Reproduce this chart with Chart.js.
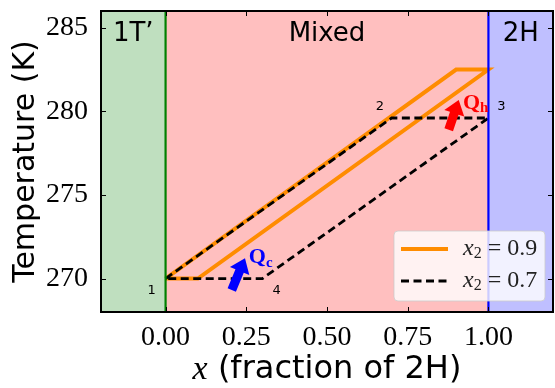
<!DOCTYPE html>
<html>
<head>
<meta charset="utf-8">
<script src="https://cdn.jsdelivr.net/npm/chart.js@4"></script>
<style>
html, body { margin: 0; padding: 0; background: #fff; }
</style>
</head>
<body>
<canvas id="myChart" width="555" height="388"></canvas>
<script>
// tick labels
const xTicks = [0, 0.25, 0.5, 0.75, 1.0];
const yTicks = [270, 275, 280, 285];

// cycle x2 = 0.9 (solid orange)
const cycle09X = [0, 0.9, 1.0, 0.1, 0];
const cycle09Y = [270, 282.5, 282.5, 270, 270];
// cycle x2 = 0.7 (dashed black)
const cycle07X = [0, 0.7, 1.0, 0.3, 0];
const cycle07Y = [270, 279.6, 279.6, 270, 270];

// phase regions
const phaseNames = ["1T\u2019", "Mixed", "2H"];
const phaseEdges = [-0.2, 0, 1, 1.2];
const phaseFill = ['rgb(191,223,191)', 'rgb(255,191,191)', 'rgb(191,191,255)'];

// corner numbers of the cycle
const cornerNames = ['1', '2', '3', '4'];
const cornerX = [-0.043, 0.664, 1.04, 0.344];
const cornerY = [269.3, 280.3, 280.3, 269.3];

// heat arrows
const heatSub = ['c', 'h'];
const heatColor = ['#0000ff', '#ff0000'];
const arrowFromX = [0.205, 0.877];
const arrowFromY = [269.32, 278.9];
const arrowToX = [0.246, 0.908];
const arrowToY = [271.22, 280.68];
const heatLabelX = [0.258, 0.921];
const heatLabelY = [271.25, 280.5];

const legendLabels = ['0.9', '0.7'];

function toPoints(xs, ys) {
  return xs.map(function (x, i) { return {x: x, y: ys[i]}; });
}

function drawArrow(ctx, x0, y0, x1, y1, color) {
  var dx = x1 - x0, dy = y1 - y0;
  var len = Math.sqrt(dx * dx + dy * dy);
  var ux = dx / len, uy = dy / len;
  var nx = -uy, ny = ux;
  var hw = 4.5, headW = 10.5, headL = 14;
  var bx = x1 - ux * headL, by = y1 - uy * headL;
  ctx.save();
  ctx.fillStyle = color;
  ctx.beginPath();
  ctx.moveTo(x0 + nx * hw, y0 + ny * hw);
  ctx.lineTo(bx + nx * hw, by + ny * hw);
  ctx.lineTo(bx + nx * headW, by + ny * headW);
  ctx.lineTo(x1, y1);
  ctx.lineTo(bx - nx * headW, by - ny * headW);
  ctx.lineTo(bx - nx * hw, by - ny * hw);
  ctx.lineTo(x0 - nx * hw, y0 - ny * hw);
  ctx.closePath();
  ctx.fill();
  ctx.restore();
}

function drawX2(ctx, x, y, val) {
  ctx.textBaseline = 'middle';
  ctx.textAlign = 'left';
  ctx.fillStyle = '#222';
  ctx.font = 'italic 24px "Liberation Serif"';
  ctx.fillText('x', x, y);
  var w = ctx.measureText('x').width;
  ctx.font = '16px "Liberation Serif"';
  ctx.fillText('2', x + w, y + 5);
  var w2 = ctx.measureText('2').width;
  ctx.font = '24px "Liberation Serif"';
  ctx.fillText(' = ' + val, x + w + w2, y);
}

const decor = {
  id: 'decor',
  beforeDatasetsDraw(chart) {
    const ctx = chart.ctx, a = chart.chartArea;
    const xs = chart.scales.x;
    ctx.save();
    for (let i = 0; i < phaseNames.length; i++) {
      const l = Math.max(a.left, xs.getPixelForValue(phaseEdges[i]));
      const r = Math.min(a.right, xs.getPixelForValue(phaseEdges[i + 1]));
      ctx.fillStyle = phaseFill[i];
      ctx.fillRect(l, a.top, r - l, a.bottom - a.top);
      ctx.fillStyle = '#000';
      ctx.font = '26px "DejaVu Sans"';
      ctx.textAlign = 'center';
      ctx.textBaseline = 'middle';
      ctx.fillText(phaseNames[i], (l + r) / 2, a.top + 23);
    }
    ctx.restore();
  },
  afterDatasetsDraw(chart) {
    const ctx = chart.ctx, a = chart.chartArea;
    const xs = chart.scales.x, ys = chart.scales.y;
    ctx.save();
    // phase boundaries
    [[0, '#008000'], [1, '#0000ff']].forEach(function (b) {
      const px = xs.getPixelForValue(b[0]);
      ctx.strokeStyle = b[1];
      ctx.lineWidth = 2.2;
      ctx.beginPath();
      ctx.moveTo(px, a.top);
      ctx.lineTo(px, a.bottom);
      ctx.stroke();
    });
    // corner numbers
    ctx.fillStyle = '#000';
    ctx.font = '13px "DejaVu Sans"';
    ctx.textAlign = 'center';
    ctx.textBaseline = 'middle';
    cornerNames.forEach(function (n, i) {
      ctx.fillText(n, xs.getPixelForValue(cornerX[i]), ys.getPixelForValue(cornerY[i]));
    });
    // heat arrows and labels
    heatSub.forEach(function (s, i) {
      drawArrow(ctx, xs.getPixelForValue(arrowFromX[i]), ys.getPixelForValue(arrowFromY[i]),
        xs.getPixelForValue(arrowToX[i]), ys.getPixelForValue(arrowToY[i]), heatColor[i]);
      const lx = xs.getPixelForValue(heatLabelX[i]), ly = ys.getPixelForValue(heatLabelY[i]);
      ctx.fillStyle = heatColor[i];
      ctx.textAlign = 'left';
      ctx.font = 'bold 22px "Liberation Serif"';
      ctx.fillText('Q', lx, ly);
      const w = ctx.measureText('Q').width;
      ctx.font = 'bold 15px "Liberation Serif"';
      ctx.fillText(s, lx + w, ly + 5);
    });
    // legend
    const lw = 151, lh = 70;
    const lx = a.right - lw - 8, ly = a.bottom - lh - 11;
    ctx.beginPath();
    ctx.roundRect(lx, ly, lw, lh, 4);
    ctx.fillStyle = 'rgba(255,255,255,0.8)';
    ctx.fill();
    ctx.strokeStyle = 'rgba(204,204,204,0.8)';
    ctx.lineWidth = 1;
    ctx.stroke();
    chart.data.datasets.slice().sort(function (p, q) { return q.order - p.order; }).forEach(function (ds, i) {
      const yy = ly + 18 + i * 32;
      ctx.strokeStyle = ds.borderColor;
      ctx.lineWidth = ds.borderWidth;
      ctx.setLineDash(ds.borderDash || []);
      ctx.beginPath();
      ctx.moveTo(lx + 7, yy);
      ctx.lineTo(lx + 54, yy);
      ctx.stroke();
      ctx.setLineDash([]);
      drawX2(ctx, lx + 69, yy, legendLabels[i]);
    });
    // frame and inward ticks
    ctx.strokeStyle = '#000';
    ctx.lineWidth = 1;
    xTicks.forEach(function (v) {
      const px = Math.round(xs.getPixelForValue(v)) + 0.5;
      ctx.beginPath();
      ctx.moveTo(px, a.bottom); ctx.lineTo(px, a.bottom - 5);
      ctx.moveTo(px, a.top); ctx.lineTo(px, a.top + 5);
      ctx.stroke();
    });
    yTicks.forEach(function (v) {
      const py = Math.round(ys.getPixelForValue(v)) + 0.5;
      ctx.beginPath();
      ctx.moveTo(a.left, py); ctx.lineTo(a.left + 5, py);
      ctx.moveTo(a.right, py); ctx.lineTo(a.right - 5, py);
      ctx.stroke();
    });
    ctx.lineWidth = 2;
    ctx.strokeRect(a.left, a.top, a.right - a.left, a.bottom - a.top);
    // x axis title
    const cx = (a.left + a.right) / 2, ty = a.bottom + 58;
    ctx.fillStyle = '#000';
    ctx.textBaseline = 'middle';
    ctx.font = 'italic 34px "Liberation Serif"';
    const wx = ctx.measureText('x').width;
    ctx.font = '32px "DejaVu Sans"';
    const wr = ctx.measureText(' (fraction of 2H)').width;
    const x0 = cx - (wx + wr) / 2;
    ctx.textAlign = 'left';
    ctx.font = 'italic 34px "Liberation Serif"';
    ctx.fillText('x', x0, ty);
    ctx.font = '32px "DejaVu Sans"';
    ctx.fillText(' (fraction of 2H)', x0 + wx, ty);
    ctx.restore();
  }
};

var ctx = document.getElementById('myChart').getContext('2d');
var myChart = new Chart(ctx, {
  type: 'scatter',
  data: {
    datasets: [{
      label: 'x2 = 0.9',
      data: toPoints(cycle09X, cycle09Y),
      showLine: true,
      borderColor: '#ff8c00',
      borderWidth: 4,
      pointRadius: 0,
      fill: false,
      order: 1
    }, {
      label: 'x2 = 0.7',
      data: toPoints(cycle07X, cycle07Y),
      showLine: true,
      borderColor: '#000000',
      borderWidth: 2.8,
      borderDash: [8, 4.5],
      pointRadius: 0,
      fill: false,
      order: 0
    }]
  },
  options: {
    responsive: false,
    animation: false,
    layout: { padding: { top: 11, right: 2, left: 0, bottom: 0 } },
    plugins: { legend: { display: false }, tooltip: { enabled: false } },
    scales: {
      x: {
        type: 'linear',
        min: -0.2,
        max: 1.2,
        grid: { display: false },
        border: { display: false },
        afterBuildTicks: function (axis) { axis.ticks = xTicks.map(function (v) { return {value: v}; }); },
        afterFit: function (axis) { axis.height = 76; axis.paddingLeft = 0; axis.paddingRight = 0; },
        ticks: {
          padding: 1,
          maxRotation: 0,
          color: '#000',
          font: { family: '"Liberation Serif"', size: 28 },
          callback: function (v) { return Number(v).toFixed(2); }
        }
      },
      y: {
        type: 'linear',
        min: 268,
        max: 286,
        grid: { display: false },
        border: { display: false },
        afterBuildTicks: function (axis) { axis.ticks = yTicks.map(function (v) { return {value: v}; }); },
        afterFit: function (axis) { axis.width = 101; axis.paddingTop = 0; axis.paddingBottom = 0; },
        title: {
          display: true,
          text: 'Temperature (K)',
          color: '#000',
          font: { family: '"DejaVu Sans"', size: 30 },
          padding: { top: 8, bottom: 0 }
        },
        ticks: {
          padding: 5,
          color: '#000',
          font: { family: '"Liberation Serif"', size: 28 },
          callback: function (v) { return String(v); }
        }
      }
    }
  },
  plugins: [decor]
});
</script>
</body>
</html>
